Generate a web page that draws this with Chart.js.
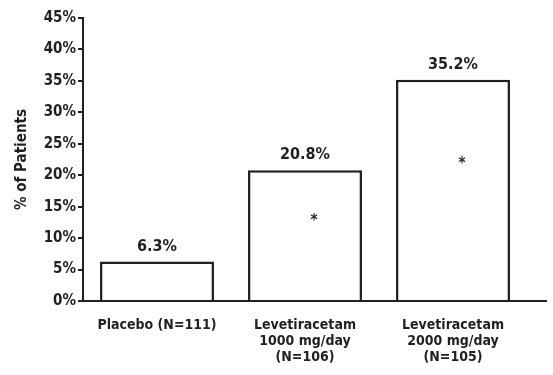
<!DOCTYPE html>
<html>
<head>
<meta charset="utf-8">
<script src="https://cdn.jsdelivr.net/npm/chart.js@4"></script>
<style>
  html, body { margin: 0; padding: 0; background: #fff; }
  #wrap { width: 553px; height: 375px; }
</style>
</head>
<body>
<div id="wrap"><canvas id="responderChart"></canvas></div>
<script>
const categories = [
  "Placebo (N=111)",
  ["Levetiracetam", "1000 mg/day", "(N=106)"],
  ["Levetiracetam", "2000 mg/day", "(N=105)"]
];
const responderRates = [6.3, 20.8, 35.2];
const significant = [false, true, true];
const yTicks = [0, 5, 10, 15, 20, 25, 30, 35, 40, 45];

const ink = "#231f20";
const fontStack = "'Liberation Sans Narrow', 'DejaVu Sans Condensed', 'Arial Narrow', sans-serif";

// value labels above bars, asterisks inside
const barNotes = {
  id: "barNotes",
  afterDatasetsDraw(chart) {
    const ctx = chart.ctx;
    const meta = chart.getDatasetMeta(0);
    const y = chart.scales.y;
    ctx.save();
    ctx.fillStyle = ink;
    ctx.textAlign = "center";
    ctx.textBaseline = "middle";
    meta.data.forEach((bar, i) => {
      ctx.font = "bold 16px " + fontStack;
      ctx.fillText(responderRates[i].toFixed(1) + "%", bar.x, bar.y - 15);
      if (significant[i]) {
        ctx.font = "bold 15px " + fontStack;
        ctx.fillText("*", bar.x + 9, y.getPixelForValue(responderRates[i] * 0.63) + 3);
      }
    });
    // x axis runs a bit past the last bar
    const a = chart.chartArea;
    ctx.strokeStyle = ink;
    ctx.lineWidth = 2;
    ctx.beginPath();
    ctx.moveTo(a.right - 1, a.bottom);
    ctx.lineTo(a.right + 20, a.bottom);
    ctx.stroke();
    ctx.restore();
  }
};

new Chart(document.getElementById("responderChart"), {
  type: "bar",
  data: {
    labels: categories,
    datasets: [{
      data: responderRates,
      backgroundColor: "#ffffff",
      borderColor: ink,
      borderWidth: 2.5,
      borderSkipped: "bottom",
      barPercentage: 0.77,
      categoryPercentage: 1.0
    }]
  },
  options: {
    responsive: true,
    maintainAspectRatio: false,
    animation: false,
    layout: { padding: { top: 18, right: 26, left: 0, bottom: 0 } },
    plugins: {
      legend: { display: false },
      tooltip: { enabled: false }
    },
    scales: {
      x: {
        grid: { display: false },
        border: { display: true, color: ink, width: 2 },
        ticks: {
          color: ink,
          font: { family: fontStack, size: 14, weight: "bold", lineHeight: 1.14 },
          padding: 8,
          maxRotation: 0,
          autoSkip: false
        },
        afterFit(scale) { scale.height = 74; }
      },
      y: {
        min: 0,
        max: 45,
        afterBuildTicks(scale) {
          scale.ticks = yTicks.map(v => ({ value: v }));
        },
        grid: { drawOnChartArea: false, tickLength: 5, color: ink, lineWidth: 2 },
        border: { display: true, color: ink, width: 2 },
        ticks: {
          color: ink,
          padding: 2,
          font: { family: fontStack, size: 15, weight: "bold" },
          callback: v => v + "%"
        },
        title: {
          display: true,
          text: "% of Patients",
          color: ink,
          font: { family: fontStack, size: 15, weight: "bold" },
          padding: { top: 13, bottom: 4 }
        },
        afterFit(scale) { scale.width = 83; }
      }
    }
  },
  plugins: [barNotes]
});
</script>
</body>
</html>
